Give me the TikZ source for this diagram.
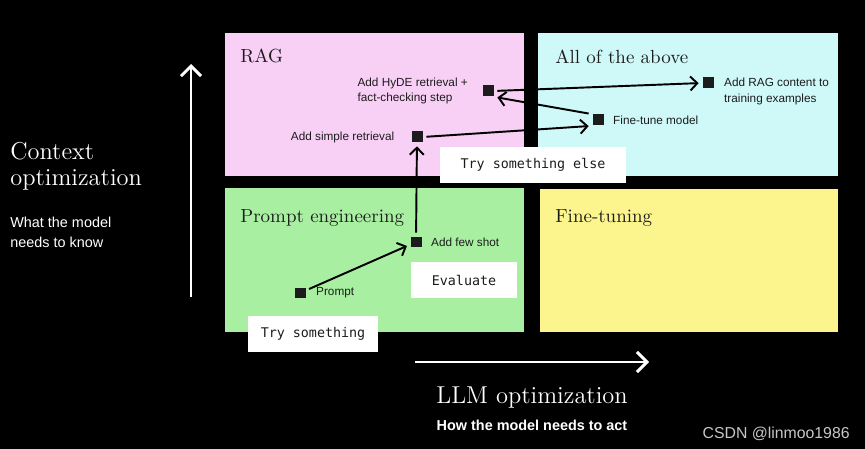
\documentclass[tikz,border=0pt]{standalone}
\usepackage{fontspec}
\setsansfont{Liberation Sans}
\setmonofont{DejaVu Sans Mono}
\usepackage{tikz}
\usetikzlibrary{arrows.meta}
\usetikzlibrary{positioning}
\definecolor{ragpink}{HTML}{F8D0F6}
\definecolor{allcyan}{HTML}{CFF8F8}
\definecolor{promptgreen}{HTML}{A9EFA2}
\definecolor{ftyellow}{HTML}{FCF58E}
\definecolor{ink}{HTML}{1C1C1C}
\tikzset{
    arrow/.style={line width=1.1pt,->,>={Straight Barb[length=1.4mm,width=2.8mm]},
        shorten >=2pt, shorten <=2pt},
    axisarrow/.style={white, line width=1.7pt,->,>={Straight Barb[length=2mm,width=4mm]}},
    quad/.style={rectangle, anchor=north west, inner sep=0pt,
        minimum width=5.98cm, minimum height=2.86cm},
    quadtitle/.style={anchor=base west, inner sep=0pt,
        font=\fontsize{10.8}{12}\selectfont, text=ink},
    sq/.style={rectangle, fill=ink, minimum size=0.22cm, inner sep=0pt},
    lbl/.style={font=\sffamily\fontsize{6.7}{8.8}\selectfont, text=ink, inner sep=0pt, align=left},
    tryit/.style={rectangle, fill=white, font=\ttfamily\fontsize{7.6}{9}\selectfont,
        text=ink, minimum height=0.72cm, inner sep=0pt}
}
\begin{document}
\begin{tikzpicture}[x=0.02cm, y=-0.02cm]
\fill[black] (0,0) rectangle (865,449);

% four quadrants
\node (rag) [quad, fill=ragpink] at (225,33) {};
\node (all) [quad, fill=allcyan, minimum width=6cm] at (538,33) {};
\node (prompt) [quad, fill=promptgreen, minimum height=2.88cm] at (225,188) {};
\node (finetune) [quad, fill=ftyellow, minimum width=5.96cm] at (540,189) {};

\node (rag-title) [quadtitle] at (240,63) {RAG};
\node (all-title) [quadtitle] at (555,64) {All of the above};
\node (prompt-title) [quadtitle] at (240,222) {Prompt engineering};
\node (ft-title) [quadtitle] at (555,222) {Fine-tuning};

% axes
\coordinate (ctx-start) at (191,297);
\coordinate (ctx-end) at (191,64);
\coordinate (llm-start) at (415,362);
\coordinate (llm-end) at (649,362);
\draw [axisarrow] (ctx-start) -- (ctx-end);
\draw [axisarrow] (llm-start) -- (llm-end);

\node (ctx-label) [anchor=base west, align=left, text=white, inner sep=0pt,
    font=\fontsize{13.9}{15.3}\selectfont] at (10,186) {
    Context \\
    optimization
};
\node (ctx-sub) [anchor=base west, align=left, text=white, inner sep=0pt,
    font=\sffamily\fontsize{8.2}{11.3}\selectfont] at (10,247) {
    What the model \\
    needs to know
};
\node (llm-label) [anchor=base, text=white, inner sep=0pt,
    font=\fontsize{13.9}{15.3}\selectfont] at (532,403) {LLM optimization};
\node (llm-sub) [anchor=base, text=white, inner sep=0pt,
    font=\sffamily\bfseries\fontsize{8.2}{10}\selectfont] at (532,430) {How the model needs to act};
\node (csdn) [anchor=base east, text=black!22, inner sep=0pt,
    font=\sffamily\fontsize{9}{10}\selectfont] at (850,438) {CSDN @linmoo1986};

% steps
\node (hyde) [sq] at (488,91) {};
\node (simple) [sq] at (417,137) {};
\node (ragc) [sq] at (708,83) {};
\node (fine) [sq] at (598,120) {};
\node (few) [sq] at (416,242) {};
\node (psq) [sq] at (300,293) {};

\node (hyde-l) [lbl, left=0.28cm of hyde] {
    Add HyDE retrieval + \\
    fact-checking step
};
\node (simple-l) [lbl, left=0.33cm of simple] {Add simple retrieval};
\node (ragc-l) [lbl, below right=-0.1cm and 0.2cm of ragc.east] {
    Add RAG content to \\
    training examples
};
\node (fine-l) [lbl, right=0.18cm of fine] {Fine-tune model};
\node (few-l) [lbl, right=0.18cm of few] {Add few shot};
\node (psq-l) [lbl, right=0.2cm of psq] {Prompt};

\draw [arrow] (psq) -- (few);
\draw [arrow] (few) -- (simple);
\draw [arrow] (simple.east) -- (fine.south west);
\draw [arrow] (fine.north west) -- (hyde.south east);
\draw [arrow] (hyde.east) -- (ragc.west);

% notes
\node (else) [tryit, minimum width=3.72cm] at (533,165) {Try something else};
\node (eval) [tryit, minimum width=2.12cm] at (464,280) {Evaluate};
\node (trysome) [tryit, minimum width=2.62cm] at (313,334) {Try something};
\end{tikzpicture}
\end{document}
